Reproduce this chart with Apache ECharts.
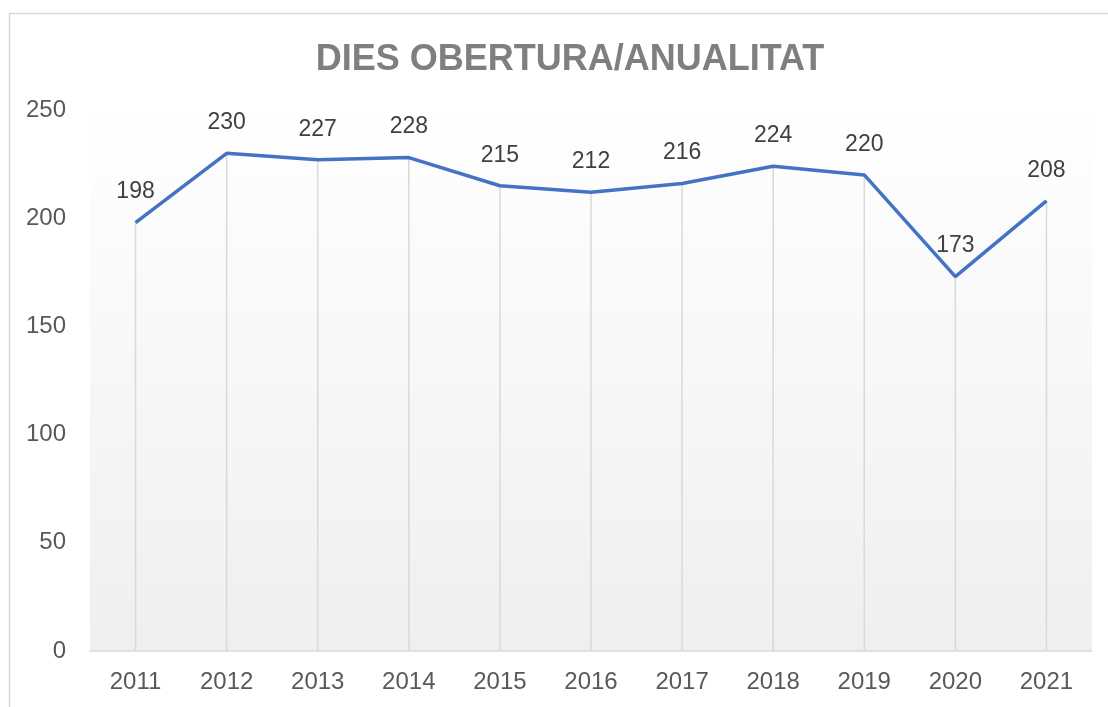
<!DOCTYPE html>
<html>
<head>
<meta charset="utf-8">
<script src="https://cdn.jsdelivr.net/npm/echarts@6/dist/echarts.min.js"></script>
<style>html,body{margin:0;padding:0;background:#fff;}#c{width:1108px;height:707px;}</style>
</head>
<body>
<div id="c"></div>
<script>
const categories = ['2011','2012','2013','2014','2015','2016','2017','2018','2019','2020','2021'];
const values = [198, 230, 227, 228, 215, 212, 216, 224, 220, 173, 208];
const titleText = 'DIES OBERTURA/ANUALITAT';

const chart = echarts.init(document.getElementById('c'), null, {renderer: 'canvas'});
chart.setOption({
  animation: false,
  backgroundColor: '#ffffff',
  title: {
    text: titleText,
    left: 565,
    top: 37,
    textAlign: 'center',
    textStyle: {fontFamily: 'Liberation Sans, Arial, sans-serif', fontSize: 36, fontWeight: 'bold', color: '#7f7f7f'}
  },
  graphic: [{
    type: 'rect', silent: true, z: -1,
    shape: {x: 9.5, y: 13.5, width: 1200, height: 1000},
    style: {fill: null, stroke: '#d9d9d9', lineWidth: 1.5}
  }],
  grid: {
    left: 90, right: 16, top: 110, bottom: 56,
    show: true, borderWidth: 0,
    backgroundColor: new echarts.graphic.LinearGradient(0, 0, 0, 1, [
      {offset: 0, color: '#ffffff'},
      {offset: 1, color: '#efefef'}
    ])
  },
  xAxis: {
    type: 'category',
    data: categories,
    boundaryGap: true,
    axisLine: {show: true, lineStyle: {color: '#d9d9d9', width: 1.5}},
    axisTick: {show: false},
    splitLine: {show: false},
    axisLabel: {margin: 19, fontFamily: 'Liberation Sans, Arial, sans-serif', fontSize: 24, color: '#595959'}
  },
  yAxis: {
    type: 'value',
    min: 0, max: 250, interval: 50,
    axisLine: {show: false},
    axisTick: {show: false},
    splitLine: {show: false},
    axisLabel: {margin: 24, fontFamily: 'Liberation Sans, Arial, sans-serif', fontSize: 24, color: '#595959'}
  },
  series: [
    {
      type: 'bar',
      data: values,
      barWidth: 1.5,
      itemStyle: {color: '#d9d9d9'},
      silent: true,
      z: 1,
      label: {
        show: true, position: 'top', distance: 19,
        fontFamily: 'Liberation Sans, Arial, sans-serif', fontSize: 23, color: '#404040'
      }
    },
    {
      type: 'line',
      data: values,
      symbol: 'none',
      lineStyle: {color: '#4472C4', width: 3.5},
      z: 3
    }
  ]
});
</script>
</body>
</html>
